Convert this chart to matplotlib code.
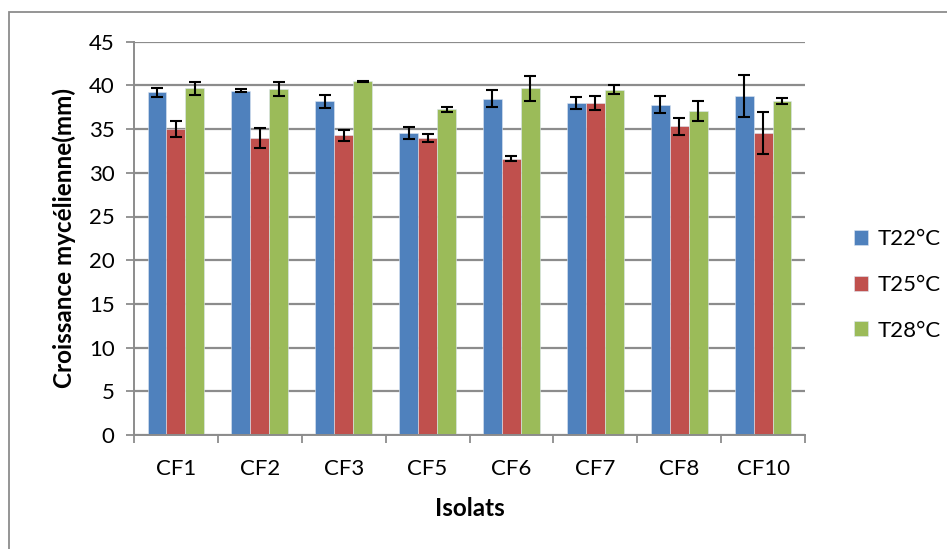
import numpy as np
import matplotlib
matplotlib.use("Agg")
import matplotlib.pyplot as plt
from matplotlib.patches import Rectangle

plt.rcParams["font.family"] = ["Lato", "DejaVu Sans"]

# mycelial growth (mm) per isolate and temperature, with error bars
isolats = ["CF1", "CF2", "CF3", "CF5", "CF6", "CF7", "CF8", "CF10"]
series = ["T22°C", "T25°C", "T28°C"]

t22 = [39.2, 39.4, 38.2, 34.55, 38.5, 38.0, 37.8, 38.8]
t25 = [35.0, 34.0, 34.3, 34.0, 31.6, 38.0, 35.3, 34.55]
t28 = [39.65, 39.55, 40.45, 37.25, 39.65, 39.5, 37.05, 38.2]

err22 = [0.5, 0.15, 0.74, 0.67, 0.92, 0.69, 0.99, 2.39]
err25 = [0.95, 1.16, 0.65, 0.44, 0.29, 0.78, 0.97, 2.39]
err28 = [0.77, 0.82, 0.08, 0.29, 1.45, 0.5, 1.18, 0.36]

colors = ["#4F81BD", "#C0504D", "#9BBB59"]
grid_col = "#8C8C8C"

fig = plt.figure(figsize=(9.47, 5.49), dpi=100)
ax = fig.add_axes([134 / 947, 1 - 435 / 549, 671 / 947, 393.3 / 549])

x = np.arange(len(isolats))
w = 0.226
for i, (vals, errs) in enumerate(zip([t22, t25, t28], [err22, err25, err28])):
    ax.bar(x + (i - 1) * w, vals, width=w, color=colors[i], edgecolor="#DCE6F2",
           linewidth=0.4, label=series[i], zorder=2)
    ax.errorbar(x + (i - 1) * w, vals, yerr=errs, fmt="none", ecolor="black",
                elinewidth=1.5, capsize=4.2, capthick=1.5, zorder=3)

ax.set_ylim(0, 45)
ax.set_xlim(-0.5, len(isolats) - 0.5)
ax.set_yticks(np.arange(0, 46, 5))
ax.set_xticks(x)
ax.set_xticklabels(isolats)
ax.set_xticks(np.arange(-0.5, len(isolats), 1), minor=True)
ax.tick_params(axis="x", which="major", length=0, pad=17, labelsize=16)
ax.tick_params(axis="x", which="minor", length=6, width=1.3, color=grid_col, direction="out")
ax.tick_params(axis="y", length=6, width=1.3, color=grid_col, labelsize=16, pad=8)

ax.yaxis.grid(True, color=grid_col, linewidth=1.6, zorder=0)
ax.set_axisbelow(True)
for side in ["top", "right"]:
    ax.spines[side].set_visible(False)
for side in ["left", "bottom"]:
    ax.spines[side].set_color(grid_col)
    ax.spines[side].set_linewidth(1.4)

ax.set_xlabel("Isolats", fontsize=17.5, fontweight="bold", labelpad=13)
ax.set_ylabel("Croissance mycélienne(mm)", fontsize=17.5, fontweight="bold", labelpad=9)

ax.legend(loc="center left", bbox_to_anchor=(845 / 947, 1 - 285 / 549),
          bbox_transform=fig.transFigure, frameon=False, fontsize=16,
          handlelength=0.65, handleheight=0.65, handletextpad=0.4,
          labelspacing=1.15, borderaxespad=0)

# chart frame
fig.patches.append(Rectangle((9 / 947, -0.1), 1.2, 1.1 - 12.5 / 549,
                             transform=fig.transFigure, fill=False,
                             edgecolor="#8C8C8C", linewidth=1.3))

fig.savefig("out.png", dpi=100)
